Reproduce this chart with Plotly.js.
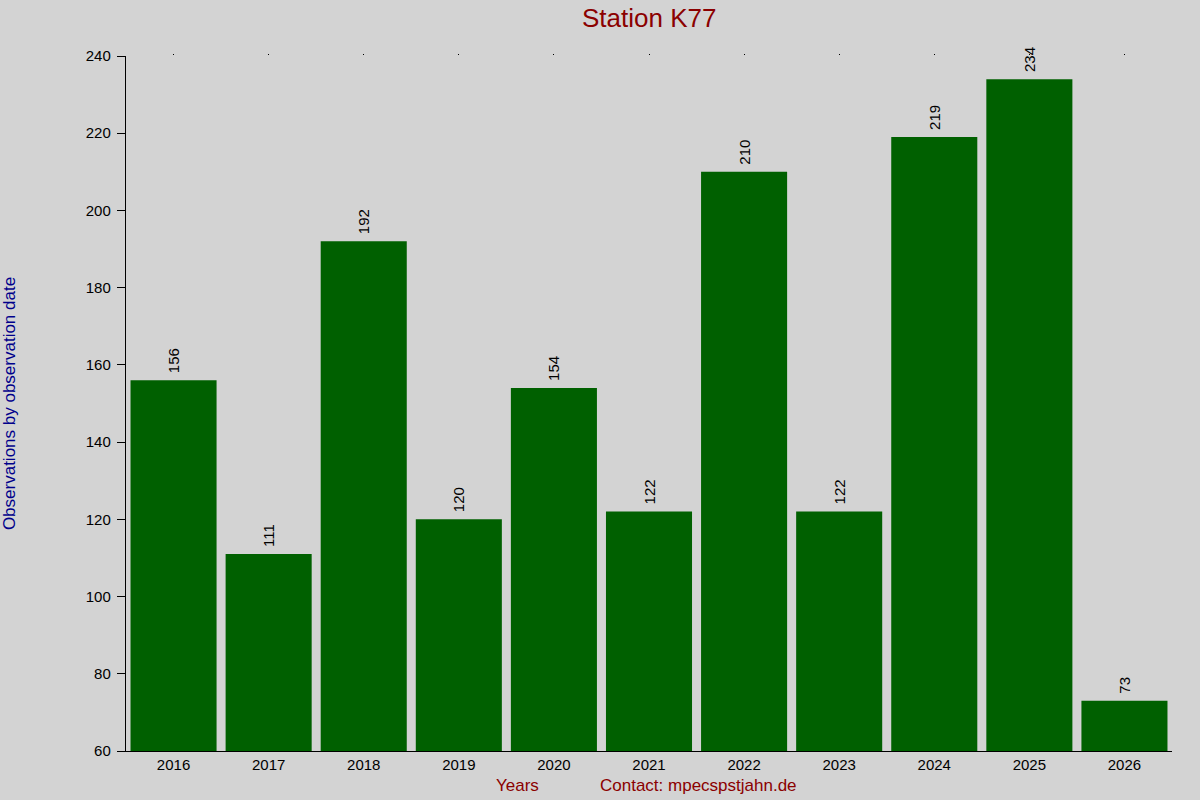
<!DOCTYPE html>
<html>
<head>
<meta charset="utf-8">
<script src="https://cdn.plot.ly/plotly-3.0.1.min.js"></script>
<style>
  body { margin: 0; background: #d3d3d3; }
  #chart { width: 1200px; height: 800px; }
</style>
</head>
<body>
<div id="chart"></div>
<script>
  // yearly observation counts for the station
  const years = ['2016', '2017', '2018', '2019', '2020', '2021', '2022', '2023', '2024', '2025', '2026'];
  const counts = [156, 111, 192, 120, 154, 122, 210, 122, 219, 234, 73];
  const yTicks = [60, 80, 100, 120, 140, 160, 180, 200, 220, 240];

  const font = 'Liberation Sans, Arial, sans-serif';

  let bars = {
    type: 'bar',
    x: years,
    y: counts,
    marker: {color: '#006000', line: {width: 0}},
    // leading nbsp pushes the rotated label a bit above the bar
    text: counts.map(v => '\u00a0' + v),
    textposition: 'outside',
    textangle: -90,
    textfont: {family: font, size: 15, color: '#000'},
    cliponaxis: false,
    hoverinfo: 'none',
  };

  // invisible trace so the small top tick dots get drawn
  let topTicks = {
    type: 'scatter',
    mode: 'none',
    x: years,
    y: counts,
    xaxis: 'x2',
    hoverinfo: 'none',
    showlegend: false,
  };

  let layout = {
    width: 1200,
    height: 800,
    paper_bgcolor: '#d3d3d3',
    plot_bgcolor: '#d3d3d3',
    showlegend: false,
    bargap: 0.095,
    margin: {l: 126, r: 28, t: 56, b: 49, pad: 0},
    font: {family: font, color: '#000'},
    title: {
      text: 'Station K77',
      font: {family: font, size: 26, color: '#8b0000'},
      x: 0.541, xanchor: 'center',
      y: 0.978, yanchor: 'middle',
    },
    xaxis: {
      type: 'category',
      showline: true, linecolor: '#000', linewidth: 1.2,
      ticks: '', showgrid: false, zeroline: false,
      tickfont: {size: 15, family: font, color: '#000'},
      ticklabelstandoff: 0,
    },
    xaxis2: {
      type: 'category',
      overlaying: 'x',
      matches: 'x',
      side: 'top',
      showline: false, showgrid: false, zeroline: false,
      ticks: 'outside', ticklen: 1, tickwidth: 1, tickcolor: '#000',
      showticklabels: false,
    },
    yaxis: {
      range: [60, 240],
      tickvals: yTicks,
      showline: true, linecolor: '#000', linewidth: 1.2,
      ticks: 'outside', ticklen: 8, tickcolor: '#000',
      showgrid: false, zeroline: false,
      tickfont: {size: 15, family: font, color: '#000'},
      ticklabelstandoff: 3,
      title: {
        text: 'Observations by observation date',
        font: {size: 17, family: font, color: '#00008b'},
        standoff: 69,
      },
    },
    annotations: [
      {text: 'Years', xref: 'paper', yref: 'paper', x: (517 - 126) / 1046, y: -0.05,
       xanchor: 'center', yanchor: 'middle', showarrow: false,
       font: {size: 17, family: font, color: '#8b0000'}},
      {text: 'Contact: mpecspstjahn.de', xref: 'paper', yref: 'paper', x: (698 - 126) / 1046, y: -0.05,
       xanchor: 'center', yanchor: 'middle', showarrow: false,
       font: {size: 17, family: font, color: '#8b0000'}},
    ],
  };

  Plotly.newPlot('chart', [bars, topTicks], layout, {displayModeBar: false, staticPlot: true});
</script>
</body>
</html>
